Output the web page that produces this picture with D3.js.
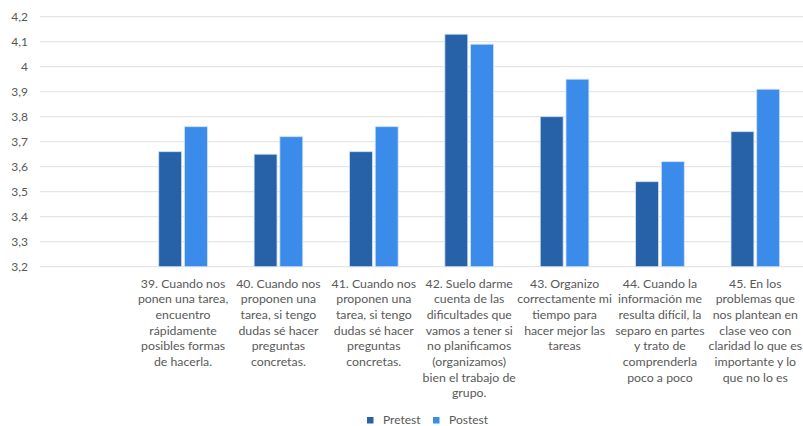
<!DOCTYPE html>
<html>
<head>
<meta charset="utf-8">
<script src="https://cdn.jsdelivr.net/npm/d3@7"></script>
<style>
  html, body { margin: 0; padding: 0; background: #fff; }
  svg text { font-family: Lato, "Open Sans", sans-serif; fill: #595959; }
</style>
</head>
<body>
<svg id="chart" width="803" height="426"></svg>
<script>
// Item labels (first slot is left empty), wrapped line by line
const categories = ["", "39", "40", "41", "42", "43", "44", "45"];
const categoryLines = [
  [],
  ["39. Cuando nos", "ponen una tarea,", "encuentro", "rápidamente", "posibles formas", "de hacerla."],
  ["40. Cuando nos", "proponen una", "tarea, si tengo", "dudas sé hacer", "preguntas", "concretas."],
  ["41. Cuando nos", "proponen una", "tarea, si tengo", "dudas sé hacer", "preguntas", "concretas."],
  ["42. Suelo darme", "cuenta de las", "dificultades que", "vamos a tener si", "no planificamos", "(organizamos)", "bien el trabajo de", "grupo."],
  ["43. Organizo", "correctamente mi", "tiempo para", "hacer mejor las", "tareas"],
  ["44. Cuando la", "información me", "resulta difícil, la", "separo en partes", "y trato de", "comprenderla", "poco a poco"],
  ["45. En los", "problemas que", "nos plantean en", "clase veo con", "claridad lo que es", "importante y lo", "que no lo es"]
];
const seriesNames = ["Pretest", "Postest"];
const pretest = [null, 3.66, 3.65, 3.66, 4.13, 3.80, 3.54, 3.74];
const postest = [null, 3.76, 3.72, 3.76, 4.09, 3.95, 3.62, 3.91];
const yTicks = [3.2, 3.3, 3.4, 3.5, 3.6, 3.7, 3.8, 3.9, 4.0, 4.1, 4.2];
const colors = ["#2762a8", "#3b8beb"];

const svg = d3.select("#chart");
const plot = { left: 40, right: 803, top: 16.7, bottom: 266.7 };

const x = d3.scaleBand().domain(categories).range([plot.left, plot.right]).paddingInner(0).paddingOuter(0);
const y = d3.scaleLinear().domain([3.2, 4.2]).range([plot.bottom, plot.top]);
const groupWidth = x.bandwidth() * 0.51;
const x1 = d3.scaleBand().domain(seriesNames).range([0, groupWidth]).paddingInner(0.11);

const fmt = v => d3.format(".1~f")(v).replace(".", ",");

// horizontal gridlines
svg.append("g").selectAll("line").data(yTicks).join("line")
  .attr("x1", plot.left).attr("x2", plot.right)
  .attr("y1", d => y(d)).attr("y2", d => y(d))
  .attr("stroke", "#e6e6e6").attr("stroke-width", 1.2);

// y axis labels
const yAxis = d3.axisLeft(y).tickValues(yTicks).tickFormat(fmt).tickSize(0).tickPadding(0);
const yg = svg.append("g").attr("transform", "translate(28,0)").call(yAxis);
yg.select(".domain").remove();
yg.selectAll("text").attr("font-size", 12).attr("fill", "#595959")
  .style("font-family", "Lato, 'Open Sans', sans-serif");

// bars
const rows = categories.map((c, i) => ({ c, vals: [pretest[i], postest[i]] }));
const groups = svg.append("g").selectAll("g").data(rows).join("g")
  .attr("transform", d => `translate(${x(d.c) + (x.bandwidth() - groupWidth) / 2},0)`);
groups.selectAll("rect")
  .data(d => d.vals.map((v, k) => ({ v, k })).filter(e => e.v !== null))
  .join("rect")
  .attr("x", e => x1(seriesNames[e.k]))
  .attr("width", x1.bandwidth())
  .attr("y", e => y(e.v))
  .attr("height", e => y(3.2) - y(e.v))
  .attr("fill", e => colors[e.k])
  .attr("stroke", "#cfe1f7").attr("stroke-width", 0.8);

// category labels
const lab = svg.append("g");
categoryLines.forEach((lines, i) => {
  const cx = x(categories[i]) + x.bandwidth() / 2;
  const t = lab.append("text").attr("text-anchor", "middle").attr("font-size", 12.3);
  lines.forEach((ln, j) => {
    t.append("tspan").attr("x", cx).attr("y", 287.5 + j * 15.7).text(ln);
  });
});

// legend
const legend = svg.append("g").attr("transform", "translate(367,417)");
const legX = [0, 66];
seriesNames.forEach((s, k) => {
  legend.append("rect").attr("x", legX[k]).attr("y", 0).attr("width", 6.5).attr("height", 6.5).attr("fill", colors[k]);
  legend.append("text").attr("x", legX[k] + 16).attr("y", 6.8).attr("font-size", 12).text(s);
});
</script>
</body>
</html>
